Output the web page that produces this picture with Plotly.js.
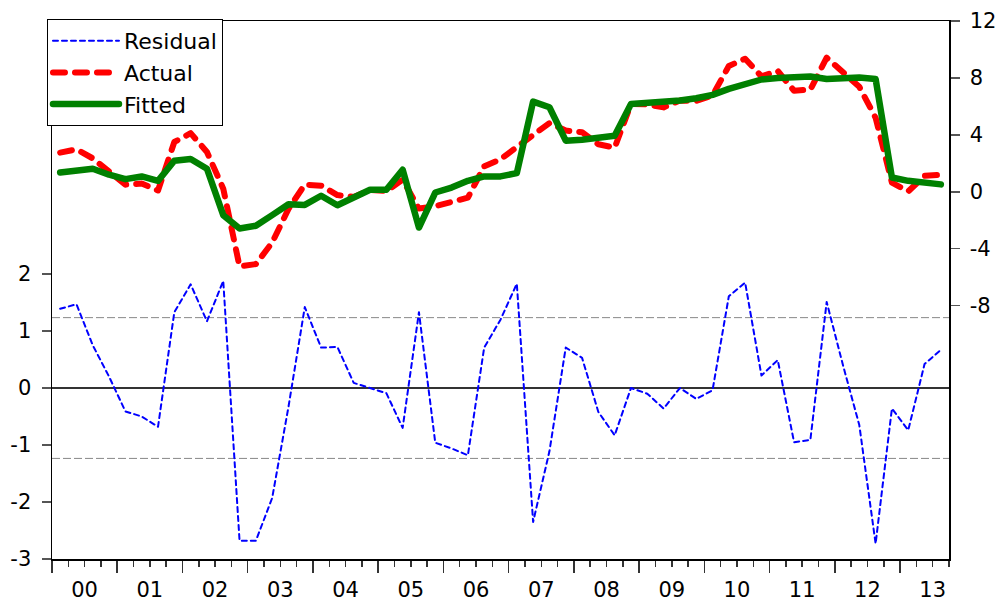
<!DOCTYPE html>
<html><head><meta charset="utf-8">
<script src="https://cdn.plot.ly/plotly-3.0.1.min.js"></script>
<style>
html,body{margin:0;padding:0;background:#fff;}
#chart{width:1001px;height:601px;}
.scatterlayer .js-line{stroke-linecap:round;stroke-linejoin:round;}
.legend .js-line{stroke-linecap:round;}
</style></head><body><div id="chart"></div>
<script>
// Quarterly data 2000Q1 - 2013Q3
const yearLabels = ['00','01','02','03','04','05','06','07','08','09','10','11','12','13'];
const residual = [1.39, 1.47, 0.75, 0.2, -0.41, -0.5, -0.68, 1.33, 1.82, 1.17, 1.88, -2.68, -2.68, -1.93, -0.33,
  1.42, 0.71, 0.72, 0.09, 0.0, -0.09, -0.70, 1.33, -0.96, -1.06, -1.18, 0.71, 1.20, 1.83, -2.35,
  -1.11, 0.71, 0.53, -0.42, -0.83, 0.0, -0.10, -0.36, 0.0, -0.19, -0.04, 1.61, 1.85, 0.22, 0.49,
  -0.95, -0.91, 1.51, 0.40, -0.65, -2.73, -0.36, -0.74, 0.42, 0.67];
const actual = [2.75, 2.98, 2.35, 1.42, 0.5, 0.58, 0.09, 3.5, 4.12, 2.8, 0.22, -5.24, -5.08, -3.57, -1.2,
  0.5, 0.43, -0.23, -0.36, 0.13, 0.05, 0.85, -1.18, -1.01, -0.76, -0.41, 1.79, 2.28, 3.14, 3.99,
  4.83, 4.3, 4.19, 3.34, 3.1, 6.17, 6.14, 5.93, 6.41, 6.38, 6.77, 8.84, 9.35, 8.11, 8.49,
  7.1, 7.19, 9.42, 8.38, 7.38, 5.2, 0.64, 0.03, 1.12, 1.19];
const fitted = [1.36, 1.51, 1.62, 1.2, 0.89, 1.08, 0.77, 2.18, 2.3, 1.62, -1.64, -2.58, -2.39, -1.64, -0.87,
  -0.92, -0.28, -0.95, -0.45, 0.14, 0.14, 1.55, -2.51, -0.05, 0.3, 0.77, 1.08, 1.08, 1.31, 6.34,
  5.94, 3.59, 3.66, 3.76, 3.94, 6.17, 6.24, 6.29, 6.41, 6.57, 6.81, 7.23, 7.56, 7.89, 8.0,
  8.05, 8.1, 7.93, 7.98, 8.03, 7.93, 1.0, 0.77, 0.7, 0.52];
const seRegression = 1.235;
const leftTicks = [-3, -2, -1, 0, 1, 2];
const leftTickText = ['-3', '-2', '-1', '0', '1', '2'];
const rightTicks = [-8, -4, 0, 4, 8, 12];
const rightTickText = ['-8', '-4', '0', '4', '8', '12'];
const quartersPerYear = 4;

const idx = residual.map((_, i) => i);
const yearBoundaries = yearLabels.map((_, k) => k * quartersPerYear - 0.5);
const yearCenters = yearLabels.map((_, k) => k * quartersPerYear + 1.5);
const xRange = [-0.5, residual.length - 0.5];

const FONT = 'DejaVu Sans, Arial, sans-serif';

const traces = [
  {x: idx, y: residual, name: 'Residual', type: 'scatter', mode: 'lines', xaxis: 'x', yaxis: 'y',
   line: {color: '#0000FF', width: 2, dash: '5px,4px'}},
  {x: idx, y: actual, name: 'Actual', type: 'scatter', mode: 'lines', xaxis: 'x', yaxis: 'y2',
   line: {color: '#FF0000', width: 6, dash: '12px,10px'}},
  {x: idx, y: fitted, name: 'Fitted', type: 'scatter', mode: 'lines', xaxis: 'x', yaxis: 'y2',
   line: {color: '#008000', width: 6.5}},
  // carrier for the year-label axis (invisible)
  {x: idx, y: residual, type: 'scatter', mode: 'lines', xaxis: 'x2', yaxis: 'y', showlegend: false,
   opacity: 0, hoverinfo: 'skip', line: {width: 1}}
];

const layout = {
  width: 1001, height: 601,
  margin: {l: 52, r: 52, t: 21, b: 42, pad: 0},
  paper_bgcolor: '#fff', plot_bgcolor: '#fff',
  font: {family: FONT, color: '#000', size: 21},
  showlegend: true,
  legend: {x: -0.0056, y: 1.0037, xanchor: 'left', yanchor: 'top',
    bgcolor: '#fff', bordercolor: '#000', borderwidth: 1,
    font: {family: FONT, size: 22, color: '#000'}, itemwidth: 66, tracegroupgap: 0},
  xaxis: {range: xRange, tickmode: 'array', tickvals: yearBoundaries, showticklabels: false,
    ticks: 'outside', ticklen: 12, tickwidth: 1.5, tickcolor: '#333',
    minor: {tick0: -0.5, dtick: 1, ticks: 'outside', ticklen: 6, tickwidth: 1.5, tickcolor: '#333', showgrid: false},
    showline: true, linecolor: '#000', linewidth: 1.5, mirror: true, showgrid: false, zeroline: false},
  xaxis2: {overlaying: 'x', anchor: 'y', side: 'bottom', range: xRange, tickmode: 'array',
    tickvals: yearCenters, ticktext: yearLabels, ticks: '', ticklabelstandoff: 16,
    showline: false, showgrid: false, zeroline: false, tickfont: {size: 21}},
  yaxis: {range: [-3, 6.44], tickmode: 'array', tickvals: leftTicks, ticktext: leftTickText,
    ticks: 'outside', ticklen: 9,
    tickwidth: 1.5, tickcolor: '#555', showline: true, linecolor: '#000', linewidth: 1.5,
    showgrid: false, zeroline: true, zerolinecolor: '#333', zerolinewidth: 1.5, ticklabelstandoff: 6},
  yaxis2: {overlaying: 'y', side: 'right', anchor: 'x', range: [-25.8, 12], tickmode: 'array',
    tickvals: rightTicks, ticktext: rightTickText, ticks: 'outside', ticklen: 9, tickwidth: 1.5, tickcolor: '#555',
    showline: true, linecolor: '#000', linewidth: 1.5, showgrid: false, zeroline: false, ticklabelstandoff: 6},
  shapes: [seRegression, -seRegression].map(v => ({type: 'line', xref: 'paper', x0: 0, x1: 1,
    yref: 'y', y0: v, y1: v, line: {color: '#888', width: 1, dash: '8px,3px'}, layer: 'below'}))
};

Plotly.newPlot('chart', traces, layout, {staticPlot: true, displayModeBar: false});
</script></body></html>
